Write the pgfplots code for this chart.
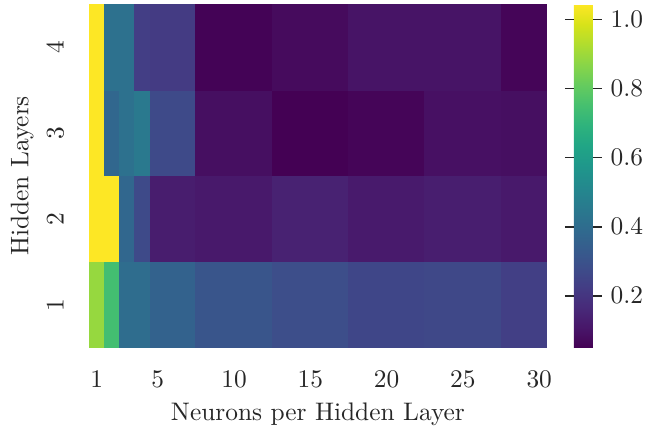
\documentclass[border=0pt]{standalone}
\usepackage{pgfplots}
\pgfplotsset{compat=1.18}
\definecolor{txt}{gray}{0.15}
\begin{document}
\begin{tikzpicture}
\begin{axis}[
  at={(0,0)}, anchor=south west,
  width=180.4pt, height=135.5pt, scale only axis,
  xmin=0.5, xmax=30.5, ymin=0.5, ymax=4.5,
  axis line style={draw=none},
  xtick={1,5,10,15,20,25,30},
  ytick={1,2,3,4},
  major tick length=0pt,
  tick label style={font=\fontsize{10}{12}\selectfont, text=txt},
  label style={font=\fontsize{10}{12}\selectfont, text=txt},
  yticklabel style={rotate=90, anchor=south, yshift=6.5pt},
  xticklabel style={yshift=-5.7pt},
  xlabel style={yshift=1pt},
  ylabel style={yshift=-1.5pt},
  xlabel={Neurons per Hidden Layer},
  ylabel={Hidden Layers},
  colormap/viridis,
  point meta min=0.049, point meta max=1.045,
  colorbar,
  colorbar style={
    at={(parent axis.north east)}, anchor=north west, xshift=2.1pt,
    width=7.5pt,
    ytick={0.2,0.4,0.6,0.8,1.0},
    yticklabel style={/pgf/number format/fixed, /pgf/number format/precision=1, /pgf/number format/fixed zerofill, text=txt},
    axis line style={draw=none},
    tick align=outside, major tick length=3.5pt,
    tick style={draw=txt, line width=0.6pt},
  },
]
\addplot[matrix plot*, mesh/cols=10, mesh/rows=4, point meta=explicit] coordinates {
(1,1) [0.89] (2,1) [0.745] (3,1) [0.40] (4,1) [0.40] (5,1) [0.358] (10,1) [0.31] (15,1) [0.283] (20,1) [0.258] (25,1) [0.262] (30,1) [0.233]
(1,2) [1.045] (2,2) [1.045] (3,2) [0.38] (4,2) [0.27] (5,2) [0.125] (10,2) [0.115] (15,2) [0.14] (20,2) [0.117] (25,2) [0.13] (30,2) [0.113]
(1,3) [1.045] (2,3) [0.38] (3,3) [0.42] (4,3) [0.45] (5,3) [0.27] (10,3) [0.085] (15,3) [0.049] (20,3) [0.06] (25,3) [0.09] (30,3) [0.085]
(1,4) [1.045] (2,4) [0.417] (3,4) [0.417] (4,4) [0.23] (5,4) [0.22] (10,4) [0.055] (15,4) [0.075] (20,4) [0.10] (25,4) [0.10] (30,4) [0.06]
};
\end{axis}
\path (-35.1pt,-30.3pt) rectangle (224.2pt,137.1pt);
\end{tikzpicture}
\end{document}
